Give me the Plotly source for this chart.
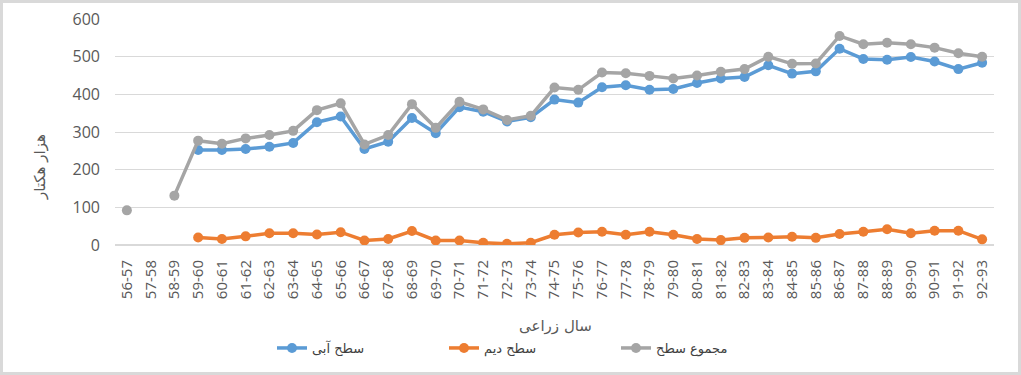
import plotly.graph_objects as go

years = ["56-57","57-58","58-59","59-60","60-61","61-62","62-63","63-64","64-65","65-66",
         "66-67","67-68","68-69","69-70","70-71","71-72","72-73","73-74","74-75","75-76",
         "76-77","77-78","78-79","79-80","80-81","81-82","82-83","83-84","84-85","85-86",
         "86-87","87-88","88-89","89-90","90-91","91-92","92-93"]

irrigated = [None, None, None, 252, 252, 255, 261, 271, 326, 341,
             255, 274, 337, 297, 366, 354, 328, 339, 386, 378,
             419, 424, 412, 414, 430, 442, 446, 477, 455, 461,
             521, 494, 492, 499, 487, 467, 484]

rainfed = [None, None, None, 20, 16, 23, 31, 31, 28, 34,
           12, 16, 37, 12, 12, 6, 3, 6, 27, 33,
           35, 27, 35, 27, 16, 13, 19, 20, 22, 19,
           29, 35, 42, 31, 38, 38, 15]

total = [92, None, 131, 277, 269, 283, 292, 303, 358, 376,
         267, 292, 374, 311, 380, 360, 332, 343, 418, 412,
         458, 456, 449, 442, 450, 460, 467, 500, 481, 482,
         555, 533, 537, 533, 524, 509, 500]

names = ["سطح آبی", "سطح دیم", "مجموع سطح"]
colors = ["#5B9BD5", "#ED7D31", "#A5A5A5"]
x_title = "سال زراعی"
y_title = "هزار هکتار"

W, H = 1021, 375
L, R, T, B = 115, 27, 19, 130
pw, ph = W - L - R, H - T - B

fig = go.Figure()
for vals, name, col in zip([irrigated, rainfed, total], names, colors):
    fig.add_trace(go.Scatter(
        x=years, y=vals, name=name, mode="lines+markers",
        line=dict(color=col, width=3.5),
        marker=dict(color=col, size=10),
        connectgaps=False,
    ))

arabic_font = "DejaVu Sans, sans-serif"

fig.update_layout(
    width=W, height=H,
    margin=dict(l=L, r=R, t=T, b=B, autoexpand=False),
    paper_bgcolor="white", plot_bgcolor="white",
    font=dict(family="Open Sans, DejaVu Sans, sans-serif", color="#595959"),
    showlegend=True,
    legend=dict(orientation="h", x=(272 - L) / pw, xanchor="left",
                y=(245 - 348) / ph, yanchor="middle",
                font=dict(size=13, family=arabic_font, color="#404040"),
                entrywidth=127, tracegroupgap=0, bgcolor="rgba(0,0,0,0)"),
    xaxis=dict(
        type="category", range=[-0.5, 36.5], tickangle=-90,
        tickfont=dict(size=15, color="#595959"),
        showgrid=False, showline=False, ticks="", zeroline=False,
        automargin=False, ticklabelstandoff=11,
    ),
    yaxis=dict(
        range=[0, 600], dtick=100,
        tickfont=dict(size=16, color="#595959"),
        gridcolor="#D9D9D9", gridwidth=1, zeroline=True, zerolinecolor="#D9D9D9",
        showline=False, ticks="", automargin=False, ticklabelstandoff=14,
    ),
    annotations=[
        dict(text=x_title, xref="paper", yref="paper", x=(555 - L) / pw, y=(245 - 326) / ph,
             xanchor="center", yanchor="middle", showarrow=False,
             font=dict(size=15, family=arabic_font, color="#595959")),
        dict(text=y_title, xref="paper", yref="paper", x=(40 - L) / pw, y=(245 - 167) / ph,
             xanchor="center", yanchor="middle", showarrow=False, textangle=-90,
             font=dict(size=15, family=arabic_font, color="#595959")),
    ],
)

# outer chart border
fig.add_shape(type="rect", xref="paper", yref="paper",
              x0=(1.5 - L) / pw, x1=(W - 1.5 - L) / pw,
              y0=(T + ph - (H - 1.5)) / ph, y1=(T + ph - 1.5) / ph,
              line=dict(color="#D9D9D9", width=3), fillcolor="rgba(0,0,0,0)", layer="below")

fig.write_html("out.html", config={"displayModeBar": False},
               post_script="document.body.style.margin='0';document.body.style.overflow='hidden';")
